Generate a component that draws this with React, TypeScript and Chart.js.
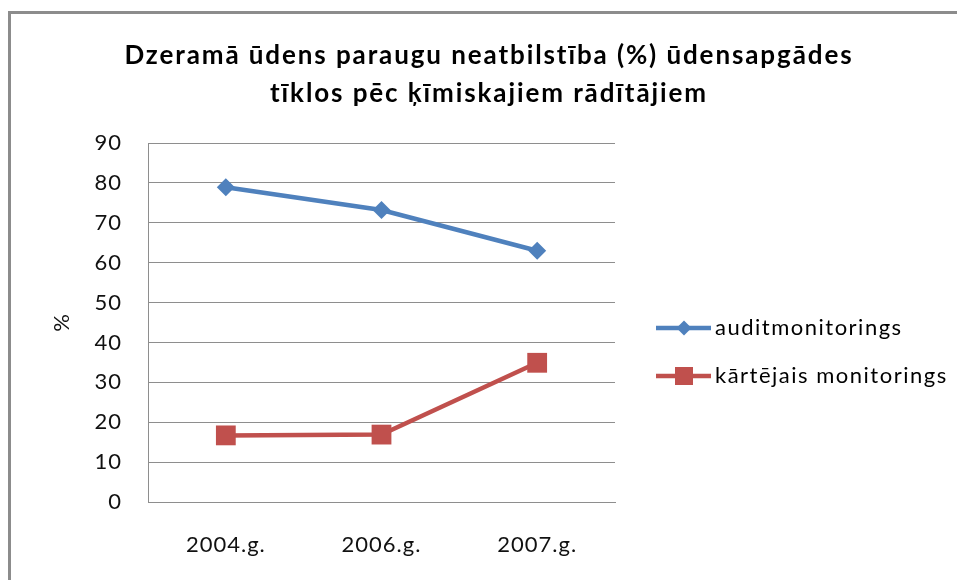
import React, { useEffect, useRef } from "react";
import { Chart, registerables } from "chart.js";

Chart.register(...registerables);

const categories = ["2004.g.", "2006.g.", "2007.g."];
const auditValues = [78.9, 73.2, 63.0];
const routineValues = [16.7, 16.9, 34.9];
const seriesLabels = ["auditmonitorings", "kārtējais monitorings"];
const titleLines = [
  "Dzeramā ūdens paraugu neatbilstība (%) ūdensapgādes",
  "tīklos pēc ķīmiskajiem rādītājiem",
];
const yAxisTitle = "%";
const yMin = 0;
const yMax = 90;
const yStep = 10;

const FONT = "Lato, 'Open Sans', sans-serif";
const BLUE = "#4F81BD";
const RED = "#C0504D";

const framePlugin = {
  id: "frame",
  beforeDraw(chart: any) {
    const ctx = chart.ctx;
    ctx.save();
    ctx.fillStyle = "#fff";
    ctx.fillRect(0, 0, chart.width, chart.height);
    ctx.strokeStyle = "#8c8c8c";
    ctx.lineWidth = 3;
    ctx.beginPath();
    ctx.moveTo(9.5, chart.height + 5);
    ctx.lineTo(9.5, 12.5);
    ctx.lineTo(chart.width + 5, 12.5);
    ctx.stroke();
    ctx.restore();
    ctx.save();
    ctx.letterSpacing = "1px";
  },
  afterDraw(chart: any) {
    chart.ctx.restore();
  },
};

const titlePlugin = {
  id: "customTitle",
  afterDraw(chart: any) {
    const ctx = chart.ctx;
    ctx.save();
    ctx.fillStyle = "#000";
    ctx.font = `bold 26px ${FONT}`;
    ctx.letterSpacing = "1.9px";
    ctx.textAlign = "center";
    ctx.textBaseline = "alphabetic";
    const baselines = [64, 102];
    titleLines.forEach((t, i) => ctx.fillText(t, 489, baselines[i]));
    ctx.restore();
  },
};

const legendPlugin = {
  id: "customLegend",
  afterDraw(chart: any) {
    const ctx = chart.ctx;
    ctx.save();
    const ys = [328, 376];
    chart.data.datasets.forEach((ds: any, i: number) => {
      const y = ys[i];
      ctx.strokeStyle = ds.borderColor;
      ctx.lineWidth = ds.borderWidth;
      ctx.beginPath();
      ctx.moveTo(656, y);
      ctx.lineTo(711, y);
      ctx.stroke();
      ctx.fillStyle = ds.pointBackgroundColor;
      ctx.beginPath();
      if (ds.pointStyle === "rectRot") {
        const r = 7.5;
        ctx.moveTo(684, y - r);
        ctx.lineTo(684 + r, y);
        ctx.lineTo(684, y + r);
        ctx.lineTo(684 - r, y);
        ctx.closePath();
      } else {
        ctx.rect(675, y - 9, 18, 18);
      }
      ctx.fill();
      ctx.fillStyle = "#000";
      ctx.font = `22px ${FONT}`;
      ctx.letterSpacing = "1.5px";
      ctx.textAlign = "left";
      ctx.textBaseline = "middle";
      ctx.fillText(ds.label, 715, y);
    });
    ctx.restore();
  },
};

export default function App() {
  const ref = useRef<HTMLCanvasElement | null>(null);
  useEffect(() => {
    if (!ref.current) return;
    const chart = new Chart(ref.current, {
      type: "line",
      data: {
        labels: categories,
        datasets: [
          {
            label: seriesLabels[0],
            data: auditValues,
            borderColor: BLUE,
            backgroundColor: BLUE,
            pointBackgroundColor: BLUE,
            pointBorderColor: BLUE,
            pointStyle: "rectRot",
            pointRadius: 9,
            pointBorderWidth: 0,
            borderWidth: 4.5,
          },
          {
            label: seriesLabels[1],
            data: routineValues,
            borderColor: RED,
            backgroundColor: RED,
            pointBackgroundColor: RED,
            pointBorderColor: RED,
            pointStyle: "rect",
            pointRadius: 14,
            pointBorderWidth: 0,
            borderWidth: 4.5,
          },
        ],
      },
      options: {
        responsive: false,
        animation: false,
        devicePixelRatio: 1,
        layout: { padding: { top: 143, right: 342, bottom: 0, left: 0 } },
        plugins: {
          legend: { display: false },
          title: { display: false },
          tooltip: { enabled: false },
        },
        scales: {
          x: {
            offset: true,
            grid: { display: true, drawOnChartArea: false, drawTicks: false },
            border: { display: true, color: "#8e8e8e", width: 1 },
            ticks: { color: "#111", font: { family: FONT, size: 22 }, padding: 30 },
            afterFit: (s: any) => {
              s.height = 78;
            },
          },
          y: {
            min: yMin,
            max: yMax,
            ticks: { stepSize: yStep, color: "#111", font: { family: FONT, size: 22 }, padding: 26 },
            grid: { color: "#8e8e8e", lineWidth: 1, drawTicks: false },
            border: { display: true, color: "#8e8e8e", width: 1 },
            title: {
              display: true,
              text: yAxisTitle,
              color: "#111",
              font: { family: FONT, size: 22 },
              padding: { top: 49, bottom: 0 },
            },
            afterFit: (s: any) => {
              s.width = 148;
            },
          },
        },
      },
      plugins: [framePlugin, titlePlugin, legendPlugin],
    });
    return () => chart.destroy();
  }, []);

  return (
    <div style={{ position: "fixed", left: 0, top: 0, width: 957, height: 580, background: "#fff", overflow: "hidden" }}>
      <canvas ref={ref} width={957} height={580} style={{ display: "block" }} />
    </div>
  );
}
